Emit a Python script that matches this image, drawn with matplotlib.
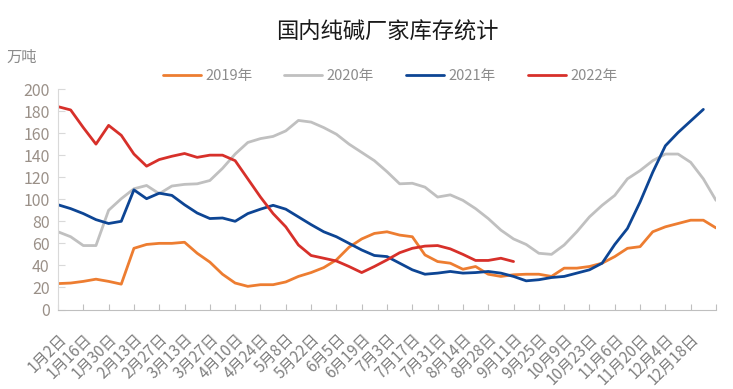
import matplotlib
matplotlib.use("Agg")
import matplotlib.pyplot as plt
import numpy as np

plt.rcParams['font.family'] = ['Noto Sans CJK SC', 'DejaVu Sans']

title = "国内纯碱厂家库存统计"
unit = "万吨"
series_names = ["2019年", "2020年", "2021年", "2022年"]

tick_dates = ["1月2日", "1月16日", "1月30日", "2月13日", "2月27日", "3月13日", "3月27日",
              "4月10日", "4月24日", "5月8日", "5月22日", "6月5日", "6月19日", "7月3日",
              "7月17日", "7月31日", "8月14日", "8月28日", "9月11日", "9月25日", "10月9日",
              "10月23日", "11月6日", "11月20日", "12月4日", "12月18日"]

y2019 = [23.5, 24, 25.5, 27.5, 25.5, 23, 55.5, 59, 60, 60, 61, 51, 43, 32, 24, 21, 22.5, 22.5,
         25, 30, 33.5, 38, 45, 56.5, 64, 69, 70.5, 67.5, 66, 49.5, 43.5, 42, 36.5, 39, 32, 30,
         31.5, 32, 32, 30, 37.5, 37.5, 39, 42, 48, 55.5, 57, 70.5, 75, 78, 81, 81, 74]
y2020 = [70.5, 66, 58, 58, 90, 100.5, 109.5, 112.5, 105, 112, 113.5, 114, 117, 128, 141, 151.5,
         155, 157, 162, 171.5, 170, 165, 159, 150, 142.5, 135, 125, 114, 114.5, 111, 102, 104,
         99, 91.5, 82.5, 72, 64, 59, 51, 50, 58.5, 70.5, 84, 94.5, 103.5, 118.5, 126, 135, 141,
         141, 133.5, 118.5, 99]
y2021 = [95, 91.5, 87, 81.5, 78, 80, 108.5, 100.5, 105.5, 103.5, 95, 87.5, 82.5, 83, 80, 87, 91,
         94.5, 91, 84, 77, 70.5, 66, 60, 54, 49, 48, 42, 36, 32, 33, 34.5, 33, 33.5, 34.5, 33, 30,
         26, 27, 29, 30, 33, 36, 42, 59, 73.5, 97.5, 124.5, 148.5, 160.5, 171, 181.5]
y2022 = [184, 181, 165, 150, 167, 158, 141, 130, 136, 139, 141.5, 138, 140, 140, 135, 118.5, 102,
         87, 75, 58.5, 49, 46.5, 44, 39, 33.5, 39, 45, 51.5, 55.5, 57.5, 58, 55, 50, 44.5, 44.5,
         46.5, 43.5]

colors = ["#ED7D31", "#C0C0C0", "#0D4594", "#D7302A"]
all_series = [y2019, y2020, y2021, y2022]

fig = plt.figure(figsize=(7.33, 3.89), dpi=100)
ax = fig.add_axes([58 / 733, 1 - 309.5 / 389, (716 - 58) / 733, (309.5 - 89) / 389])

for name, ys, c in zip(series_names, all_series, colors):
    ax.plot(np.arange(len(ys)), ys, color=c, lw=2.0, label=name,
            solid_joinstyle='round', solid_capstyle='round')

ax.set_xlim(0, 52)
ax.set_ylim(0, 200)
ax.set_yticks(np.arange(0, 201, 20))
ax.set_xticks(np.arange(0, 53, 2))
ax.set_xticklabels(tick_dates + [""])

for s in ['top', 'right']:
    ax.spines[s].set_visible(False)
ax.spines['left'].set_color('#d9d9d9')
ax.spines['bottom'].set_color('#bfbfbf')
ax.tick_params(axis='y', direction='in', length=5, color='#d9d9d9', labelsize=11.5,
               labelcolor='#9a9088', pad=6)
ax.tick_params(axis='x', direction='in', length=4, color='#bfbfbf', labelsize=11,
               labelcolor='#7f7f7f', pad=15)
for lab in ax.get_xticklabels():
    lab.set_rotation(45)
    lab.set_ha('right')
    lab.set_va('top')
    lab.set_rotation_mode('anchor')

fig.text(387 / 733, 1 - 32 / 389, title, ha='center', va='center', fontsize=16, color='#1a1a1a')
fig.text(22 / 733, 1 - 57 / 389, unit, ha='center', va='center', fontsize=11, color='#8c8c8c')

leg = fig.legend(loc='center', bbox_to_anchor=(390 / 733, 1 - 76 / 389), ncol=4, frameon=False,
                 fontsize=10.5, handlelength=2.6, columnspacing=2.2, handletextpad=0.3)
for t in leg.get_texts():
    t.set_color('#8c8c8c')

fig.savefig("out.png", dpi=100)
